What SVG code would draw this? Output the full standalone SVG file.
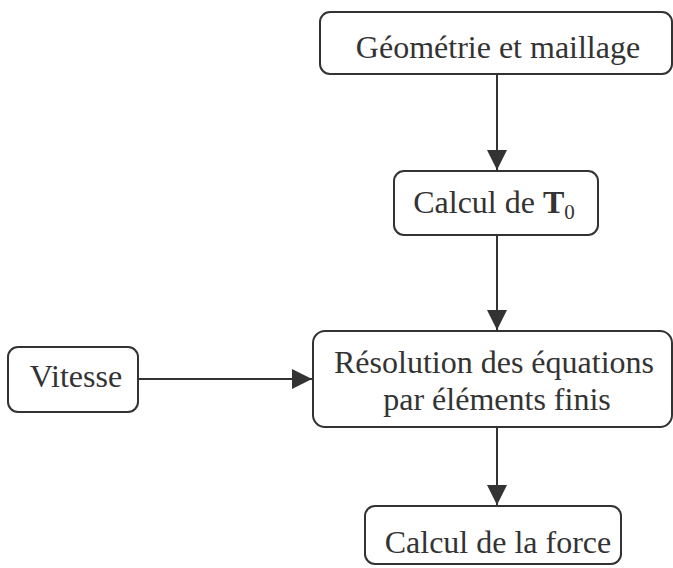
<svg xmlns="http://www.w3.org/2000/svg" width="673" height="568" viewBox="0 0 673 568">
<style>
.box{fill:#fff;stroke:#333;stroke-width:2}
.t{font-family:'Liberation Serif','DejaVu Serif',serif;font-size:32px;fill:#333;text-anchor:middle}
.c{stroke:#333;stroke-width:2;fill:none}
</style>
<defs>
<marker id="ah" markerWidth="20" markerHeight="20" refX="20" refY="10" orient="auto" markerUnits="userSpaceOnUse">
<path d="M0,0 L20,10 L0,20 Z" fill="#333"/>
</marker>
</defs>
<rect width="673" height="568" fill="#fff"/>
<g id="connectors">
<line class="c" x1="497" y1="75" x2="497" y2="170" marker-end="url(#ah)"/>
<line class="c" x1="497" y1="235" x2="497" y2="330" marker-end="url(#ah)"/>
<line class="c" x1="139" y1="379" x2="312" y2="379" marker-end="url(#ah)"/>
<line class="c" x1="497" y1="427" x2="497" y2="505" marker-end="url(#ah)"/>
</g>
<g id="geometrie">
<rect class="box" x="320" y="12" width="352" height="62" rx="10"/>
<text class="t" x="498" y="58" font-family="Liberation Serif, serif">Géométrie et maillage</text>
</g>
<g id="calcul-t0">
<rect class="box" x="394" y="171" width="204" height="64" rx="10"/>
<text class="t" x="494" y="213" font-family="Liberation Serif, serif">Calcul de <tspan font-weight="bold">T</tspan><tspan font-size="21" dy="6">0</tspan></text>
</g>
<g id="vitesse">
<rect class="box" x="8" y="347" width="130" height="65" rx="10"/>
<text class="t" x="76" y="387" font-family="Liberation Serif, serif">Vitesse</text>
</g>
<g id="resolution">
<rect class="box" x="313" y="331" width="359" height="96" rx="12"/>
<text class="t" x="494" y="373" font-family="Liberation Serif, serif">Résolution des équations</text>
<text class="t" x="497" y="410" font-family="Liberation Serif, serif">par éléments finis</text>
</g>
<g id="force">
<rect class="box" x="365" y="506" width="256" height="58" rx="10"/>
<text class="t" x="498" y="553" font-family="Liberation Serif, serif">Calcul de la force</text>
</g>
</svg>
